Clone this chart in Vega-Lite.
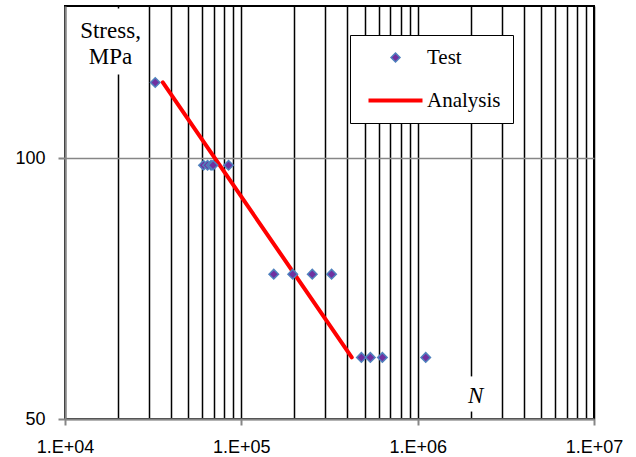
{
  "$schema": "https://vega.github.io/schema/vega-lite/v6.json",
  "width": 529,
  "height": 413,
  "autosize": {"type": "none"},
  "padding": {"left": 65, "top": 6, "right": 42, "bottom": 38},
  "background": "white",
  "config": {
    "view": {"stroke": "black", "strokeWidth": 2}
  },
  "datasets": {
    "test": [
      {"N": 32490, "S": 122.4, "series": "Test"},
      {"N": 61040, "S": 98.2, "series": "Test"},
      {"N": 64330, "S": 98.2, "series": "Test"},
      {"N": 67330, "S": 98.2, "series": "Test"},
      {"N": 69110, "S": 98.2, "series": "Test"},
      {"N": 84610, "S": 98.2, "series": "Test"},
      {"N": 152700, "S": 73.5, "series": "Test"},
      {"N": 195600, "S": 73.5, "series": "Test"},
      {"N": 252500, "S": 73.5, "series": "Test"},
      {"N": 324900, "S": 73.5, "series": "Test"},
      {"N": 479500, "S": 58.9, "series": "Test"},
      {"N": 539100, "S": 58.9, "series": "Test"},
      {"N": 630700, "S": 58.9, "series": "Test"},
      {"N": 1111000, "S": 58.9, "series": "Test"}
    ],
    "analysis": [
      {"N": 35860, "S": 122.4},
      {"N": 422900, "S": 58.9}
    ],
    "boxes": [
      {"N1": 11300, "N2": 28000, "S1": 125, "S2": 149},
      {"N1": 1850000, "N2": 2450000, "S1": 51, "S2": 56}
    ],
    "labels": [
      {"N": 18120, "S": 137.6, "label": ["Stress,", "MPa"], "kind": "ylab"},
      {"N": 2136000, "S": 52.14, "label": "N", "kind": "xlab"}
    ]
  },
  "layer": [
    {
      "data": {"name": "boxes"},
      "mark": {"type": "rect", "fill": "white", "stroke": null},
      "encoding": {
        "x": {
          "field": "N1", "type": "quantitative",
          "scale": {"type": "log", "domain": [10000, 10000000], "nice": false},
          "axis": {
            "title": null,
            "values": [10000, 20000, 30000, 40000, 50000, 60000, 70000, 80000, 90000,
                       100000, 200000, 300000, 400000, 500000, 600000, 700000, 800000, 900000,
                       1000000, 2000000, 3000000, 4000000, 5000000, 6000000, 7000000, 8000000, 9000000, 10000000],
            "grid": true,
            "gridColor": "black",
            "gridWidth": 1.5,
            "gridOpacity": 1,
            "domainColor": "#868686",
            "domainWidth": 2,
            "tickColor": {"condition": {"test": "datum.value == 10000 || datum.value == 100000 || datum.value == 1000000 || datum.value == 10000000", "value": "#868686"}, "value": "transparent"},
            "tickSize": 6,
            "tickWidth": 2,
            "labelExpr": "(datum.value == 10000 || datum.value == 100000 || datum.value == 1000000 || datum.value == 10000000) ? '1.E+0' + round(log(datum.value) / LN10) : ''",
            "labelFont": "Liberation Sans",
            "labelFontSize": 18,
            "labelColor": "black",
            "labelPadding": 13,
            "labelFlush": false,
            "labelOverlap": false,
            "labelBound": false
          }
        },
        "x2": {"field": "N2"},
        "y": {
          "field": "S1", "type": "quantitative",
          "scale": {"type": "log", "domain": [50, 150], "nice": false},
          "axis": {
            "title": null,
            "values": [50, 100],
            "grid": true,
            "gridColor": "#868686",
            "gridWidth": 1.5,
            "domainColor": "#868686",
            "domainWidth": 2,
            "tickColor": "#868686",
            "tickSize": 7,
            "tickWidth": 2,
            "labelFont": "Liberation Sans",
            "labelFontSize": 18,
            "labelColor": "black",
            "labelPadding": 13
          }
        },
        "y2": {"field": "S2"}
      }
    },
    {
      "data": {"name": "labels"},
      "transform": [{"filter": "datum.kind == 'ylab'"}],
      "mark": {"type": "text", "font": "Liberation Serif", "fontSize": 23, "align": "center", "baseline": "alphabetic", "lineHeight": 26, "color": "black"},
      "encoding": {
        "x": {"field": "N", "type": "quantitative", "scale": {"type": "log", "domain": [10000, 10000000], "nice": false}},
        "y": {"field": "S", "type": "quantitative", "scale": {"type": "log", "domain": [50, 150], "nice": false}},
        "text": {"field": "label"}
      }
    },
    {
      "data": {"name": "labels"},
      "transform": [{"filter": "datum.kind == 'xlab'"}],
      "mark": {"type": "text", "font": "Liberation Serif", "fontSize": 23, "fontStyle": "italic", "align": "center", "baseline": "alphabetic", "color": "black"},
      "encoding": {
        "x": {"field": "N", "type": "quantitative", "scale": {"type": "log", "domain": [10000, 10000000], "nice": false}},
        "y": {"field": "S", "type": "quantitative", "scale": {"type": "log", "domain": [50, 150], "nice": false}},
        "text": {"field": "label"}
      }
    },
    {
      "data": {"name": "analysis"},
      "mark": {"type": "line", "color": "#FF0000", "strokeWidth": 4, "strokeCap": "round"},
      "encoding": {
        "x": {"field": "N", "type": "quantitative", "scale": {"type": "log", "domain": [10000, 10000000], "nice": false}},
        "y": {"field": "S", "type": "quantitative", "scale": {"type": "log", "domain": [50, 150], "nice": false}}
      }
    },
    {
      "data": {"name": "test"},
      "mark": {"type": "point", "filled": true, "size": 90, "opacity": 1, "fillOpacity": 1, "strokeOpacity": 1},
      "encoding": {
        "x": {"field": "N", "type": "quantitative", "scale": {"type": "log", "domain": [10000, 10000000], "nice": false}},
        "y": {"field": "S", "type": "quantitative", "scale": {"type": "log", "domain": [50, 150], "nice": false}},
        "fill": {
          "field": "series", "type": "nominal",
          "scale": {"domain": ["Test", "Analysis"], "range": ["#7030A0", "transparent"]},
          "legend": {"title": null}
        },
        "stroke": {
          "field": "series", "type": "nominal",
          "scale": {"domain": ["Test", "Analysis"], "range": ["#4F81BD", "#FF0000"]},
          "legend": {"title": null}
        },
        "strokeWidth": {
          "field": "series", "type": "nominal",
          "scale": {"domain": ["Test", "Analysis"], "range": [1.5, 4]},
          "legend": {"title": null}
        },
        "shape": {
          "field": "series", "type": "nominal",
          "scale": {"domain": ["Test", "Analysis"], "range": ["diamond", "M-6,0L6,0"]},
          "legend": {
            "title": null,
            "orient": "none",
            "legendX": 285,
            "legendY": 29,
            "strokeColor": "black",
            "fillColor": "white",
            "padding": 12,
            "labelFont": "Liberation Serif",
            "labelFontSize": 21,
            "labelColor": "black",
            "symbolSize": 81,
            "symbolOffset": 23,
            "labelOffset": 21,
            "rowPadding": 21,
            "encode": {
              "legend": {"update": {"strokeWidth": {"value": 1.5}}},
              "symbols": {"update": {"strokeCap": {"value": "round"}}}
            }
          }
        }
      }
    }
  ]
}
